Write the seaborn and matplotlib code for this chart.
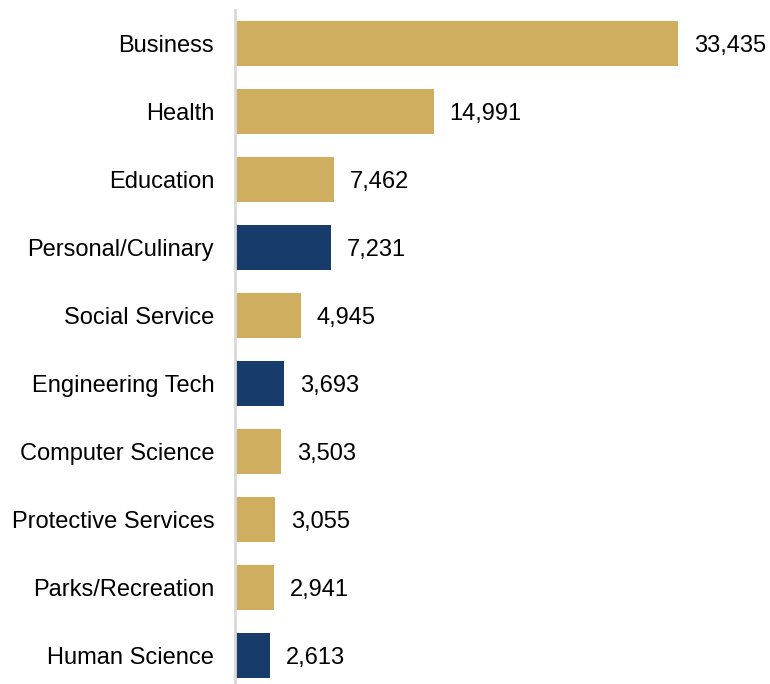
import matplotlib
matplotlib.use("Agg")
import matplotlib.pyplot as plt
import seaborn as sns
import pandas as pd

categories = ["Business", "Health", "Education", "Personal/Culinary", "Social Service",
              "Engineering Tech", "Computer Science", "Protective Services",
              "Parks/Recreation", "Human Science"]
values = [33435, 14991, 7462, 7231, 4945, 3693, 3503, 3055, 2941, 2613]
groups = ["gold", "gold", "gold", "navy", "gold", "navy", "gold", "gold", "gold", "navy"]

palette = {"gold": "#CFAF5F", "navy": "#173C6C"}

df = pd.DataFrame({"category": categories, "value": values, "group": groups})

sns.set_style("white")
plt.rcParams["font.family"] = ["Liberation Sans", "DejaVu Sans"]

fig = plt.figure(figsize=(7.7, 6.84), dpi=100)
ax = fig.add_axes([235 / 770, 0.0, (765 - 235) / 770, (684 - 10) / 684])

sns.barplot(data=df, x="value", y="category", hue="group", palette=palette,
            order=categories, dodge=False, legend=False, width=0.66,
            saturation=1, linewidth=0, ax=ax)

ax.set_xlim(0, 40000)
ax.set_ylim(9.42, -0.49)
ax.set_xlabel("")
ax.set_ylabel("")
ax.set_xticks([])
ax.tick_params(axis="y", length=0, pad=15, labelsize=17, labelcolor="#000000")

for side in ["top", "right", "bottom"]:
    ax.spines[side].set_visible(False)
ax.spines["left"].set_color("#D9D9D9")
ax.spines["left"].set_linewidth(2)

for i, v in enumerate(values):
    ax.annotate(f"{v:,}", xy=(v, i), xytext=(11.5, 0), textcoords="offset points",
                ha="left", va="center_baseline", fontsize=17, color="#000000")

fig.savefig("out.png", dpi=100)
